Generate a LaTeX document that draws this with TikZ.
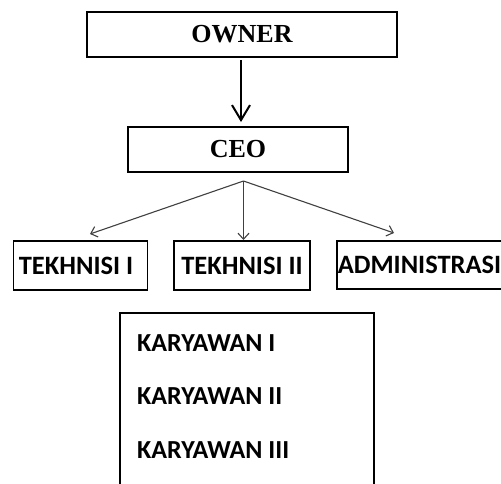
\documentclass[tikz,border=0pt]{standalone}
\usepackage{fontspec}
\setmainfont{Liberation Serif}
\newfontfamily\calib{Carlito}
\usetikzlibrary{arrows.meta,calc}
\begin{document}
\begin{tikzpicture}[x=1pt,y=-1pt,
  topbox/.style={draw,line width=2pt,inner sep=0pt,font=\fontsize{26}{30}\selectfont\bfseries},
  subbox/.style={draw,line width=1.6pt,inner sep=0pt,font=\calib\fontsize{26.5}{30}\selectfont\bfseries},
  ktext/.style={anchor=west,inner sep=0pt,font=\calib\fontsize{26}{30}\selectfont\bfseries},
  bigarrow/.style={line width=2pt,-{Straight Barb[length=15pt,width=18pt]}},
  smallarrow/.style={line width=1.1pt,draw=black!75,-{Straight Barb[length=6pt,width=11pt]}}]
\useasboundingbox (0,0) rectangle (501,483);
\clip (0,0) rectangle (501,483);
\node[topbox,minimum width=310pt,minimum height=45pt] (owner) at (242,34.5) {OWNER};
\node[topbox,minimum width=220pt,minimum height=45pt] (ceo) at (238,149.5) {CEO};
\node[subbox,minimum width=134pt,minimum height=49pt] (t1) at (80.5,265.5) {\hspace*{-9pt}TEKHNISI I};
\node[subbox,minimum width=136pt,minimum height=49pt] (t2) at (242,265.5) {TEKHNISI II};
\node[subbox,minimum width=168pt,minimum height=48pt] (adm) at (421,265) {\hspace*{-3pt}ADMINISTRASI};
\node[draw,line width=1.6pt,minimum width=254pt,minimum height=180pt,inner sep=0pt] (kar) at (247,403) {};
\node[ktext] (k1) at (137,343) {KARYAWAN I};
\node[ktext] (k2) at (137,396.5) {KARYAWAN II};
\node[ktext] (k3) at (137,450) {KARYAWAN III};
\coordinate (o1) at (241,60);
\coordinate (c1) at (241,122);
\draw[bigarrow] (o1) -- (c1);
\coordinate (split) at (243.5,181);
\coordinate (e1) at (90,234);
\coordinate (e2) at (243.5,240);
\coordinate (e3) at (394,233);
\draw[smallarrow] (split) -- (e1);
\draw[smallarrow] (split) -- (e2);
\draw[smallarrow] (split) -- (e3);
\end{tikzpicture}
\end{document}
